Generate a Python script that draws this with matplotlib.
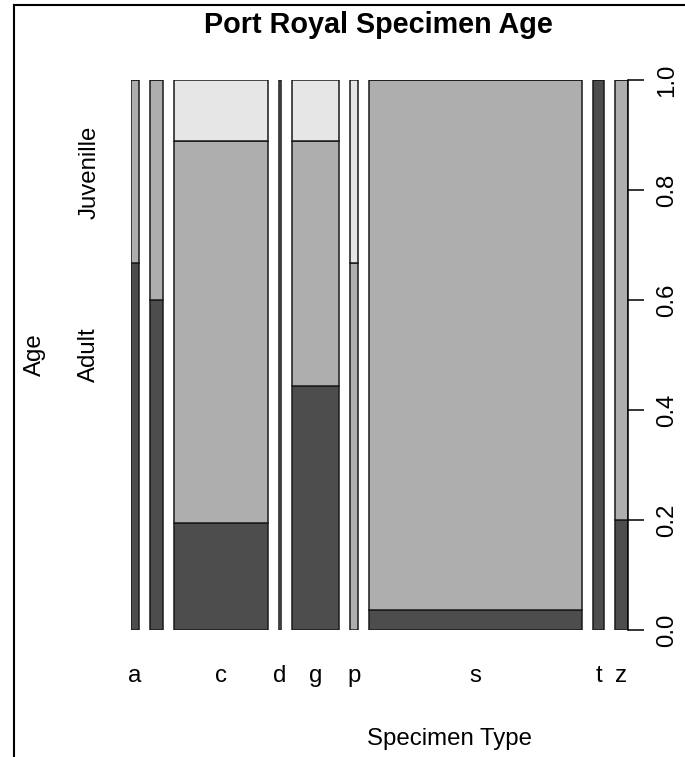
import numpy as np
import matplotlib.pyplot as plt
from matplotlib.lines import Line2D

plt.rcParams['font.family'] = ['Liberation Sans', 'DejaVu Sans']

# specimen types (the second one has no label shown on the axis)
type_labels = ['a', '', 'c', 'd', 'g', 'p', 's', 't', 'z']
adult = np.array([2, 3, 7, 0, 8, 0, 3, 4, 1])
juvenile = np.array([1, 2, 25, 1, 8, 2, 79, 0, 4])
other = np.array([0, 0, 4, 0, 2, 1, 0, 0, 0])

age_labels = ['Adult', 'Juvenille']
age_label_pos = [0.5, 0.833]
ticks = [0.0, 0.2, 0.4, 0.6, 0.8, 1.0]

colors = ['#4D4D4D', '#AEAEAE', '#E6E6E6']

counts = adult + juvenile + other
gap = 0.027 * counts.sum()
left = np.concatenate([[0], np.cumsum(counts + gap)[:-1]])
centers = left + counts / 2

fig = plt.figure(figsize=(6.85, 7.57), dpi=100)
ax = fig.add_axes([131 / 685, 1 - 630 / 757, 496.7 / 685, 550 / 757])

bottom = np.zeros(len(counts))
for vals, col in zip([adult, juvenile, other], colors):
    frac = vals / counts
    ax.bar(left, frac, width=counts, bottom=bottom, align='edge',
           color=col, edgecolor='#1a1a1a', linewidth=1.1)
    bottom = bottom + frac

ax.set_xlim(0, left[-1] + counts[-1])
ax.set_ylim(0, 1)
for s in ['top', 'bottom', 'left', 'right']:
    ax.spines[s].set_visible(False)

ax.set_xticks(centers, type_labels)
ax.tick_params(axis='x', length=0, pad=25, labelsize=17.3)
ax.set_yticks(age_label_pos, age_labels, rotation=90, va='center')
ax.tick_params(axis='y', length=0, pad=22, labelsize=17.3)

ax.set_xlabel('Specimen Type', fontsize=17.3)
ax.xaxis.set_label_coords(0.641, -0.178)
ax.set_ylabel('Age', fontsize=17.3)
ax.yaxis.set_label_coords(-0.172, 0.5)

ax2 = ax.twinx()
ax2.set_ylim(0, 1)
for s in ['top', 'bottom', 'left']:
    ax2.spines[s].set_visible(False)
ax2.spines['right'].set_linewidth(1.1)
ax2.set_yticks(ticks, [f'{t:.1f}' for t in ticks], rotation=90, va='center')
ax2.tick_params(axis='y', length=11.5, width=1.1, pad=9, labelsize=17.3)

fig.text(378 / 685, 1 - 33 / 757, 'Port Royal Specimen Age', ha='center',
         va='baseline', fontsize=20.7, fontweight='bold')

# window border (left and top)
fig.add_artist(Line2D([14 / 685, 14 / 685], [0, 1 - 5 / 757], color='black', lw=1.5))
fig.add_artist(Line2D([14 / 685, 1], [1 - 5 / 757, 1 - 5 / 757], color='black', lw=1.5))

fig.savefig('out.png', dpi=100)
